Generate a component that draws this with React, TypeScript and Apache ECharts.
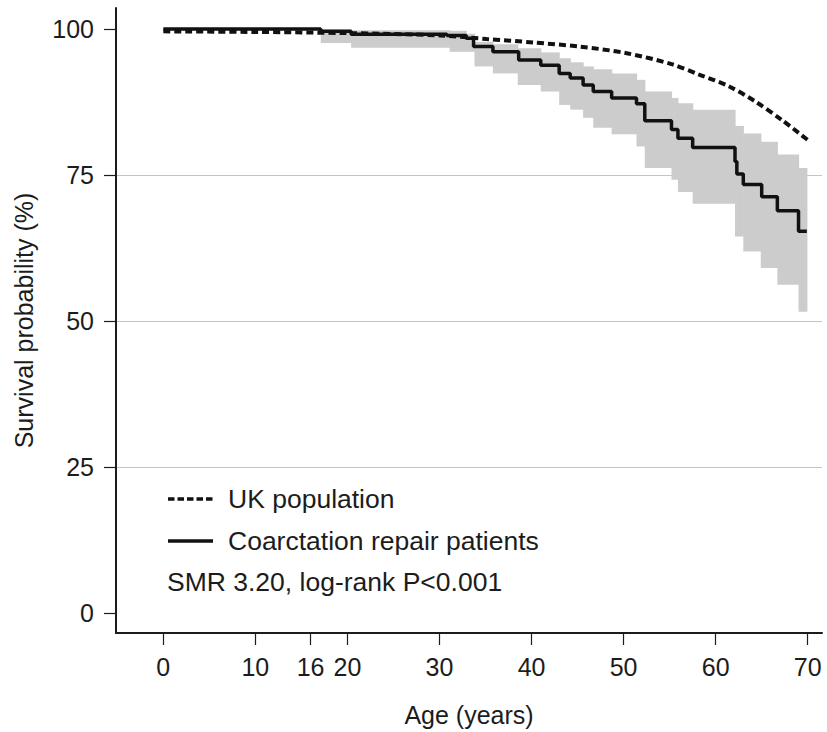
import React, { useEffect, useRef } from "react";
import * as echarts from "echarts";

// ---- data ----
const xTickValues = [0, 10, 16, 20, 30, 40, 50, 60, 70];
const yTickValues = [0, 25, 50, 75, 100];

// Kaplan-Meier estimate, coarctation repair patients (step changes)
const patientAges = [0, 17.1, 20.4, 30.8, 32.9, 33.7, 35.8, 38.6, 41.0, 43.0, 44.2, 45.6, 46.7, 48.7, 51.4, 52.3, 55.2, 55.9, 57.5, 62.1, 62.3, 63.0, 65.0, 66.7, 69.0, 69.9];
const patientSurvival = [100, 99.6, 99.1, 98.9, 98.4, 97.0, 96.1, 94.7, 93.8, 92.4, 91.6, 90.4, 89.3, 88.2, 87.2, 84.3, 82.8, 81.3, 79.7, 77.3, 75.2, 73.4, 71.3, 68.9, 65.4, 65.4];

// 95% confidence band (value holds from each age to the next)
const bandAges = [0, 17.1, 20.4, 31.1, 32.9, 33.8, 35.8, 38.5, 41.0, 43.0, 44.2, 45.6, 46.7, 48.7, 51.4, 52.3, 55.2, 55.9, 57.5, 62.1, 63.0, 64.9, 66.7, 69.0, 69.9];
const bandLower = [100, 97.6, 96.8, 96.1, 96.1, 93.6, 92.4, 90.4, 89.3, 87.0, 86.2, 84.8, 83.1, 82.0, 79.9, 76.2, 74.2, 72.1, 70.1, 64.5, 61.9, 59.1, 56.2, 51.6, 51.6];
const bandUpper = [100, 99.9, 99.8, 99.7, 99.2, 97.8, 97.4, 96.7, 96.0, 95.0, 94.3, 93.6, 93.1, 92.4, 91.3, 89.3, 88.2, 87.3, 86.2, 83.4, 82.1, 80.7, 78.5, 76.2, 76.2];

// UK general population expected survival
const ukAges = [0, 10, 20.1, 30.1, 35.1, 40.2, 45.2, 50.2, 55.2, 58.2, 61.3, 64.3, 67.3, 70.0];
const ukSurvival = [99.6, 99.5, 99.3, 98.9, 98.3, 97.7, 97.0, 95.9, 94.0, 92.2, 90.3, 87.6, 84.3, 81.0];

const seriesNames = ["UK population", "Coarctation repair patients"];
const statsNote = "SMR 3.20, log-rank P<0.001";
const xAxisTitle = "Age (years)";
const yAxisTitle = "Survival probability (%)";

const FONT = '"Liberation Sans", Arial, Helvetica, sans-serif';
const INK = "#1c1c1c";

export default function App() {
  const ref = useRef<HTMLDivElement>(null);

  useEffect(() => {
    if (!ref.current) return;
    const chart = echarts.init(ref.current, undefined, { renderer: "svg" });

    const bandData = bandAges
      .slice(0, -1)
      .map((a, i) => [a, bandAges[i + 1], bandLower[i], bandUpper[i]]);
    const ukData = ukAges.map((a, i) => [a, ukSurvival[i]]);
    const patientData = patientAges.map((a, i) => [a, patientSurvival[i]]);

    chart.setOption({
      animation: false,
      grid: { left: 116, right: 5, top: 8, bottom: 97, containLabel: false },
      xAxis: {
        type: "value",
        min: -5.14,
        max: 71.55,
        name: xAxisTitle,
        nameLocation: "middle",
        nameGap: 69,
        nameTextStyle: { fontFamily: FONT, fontSize: 25, color: INK },
        axisLine: { show: true, onZero: false, lineStyle: { color: INK, width: 2 } },
        axisTick: { show: true, customValues: xTickValues, length: 12, lineStyle: { color: INK, width: 1.2 } },
        axisLabel: { customValues: xTickValues, margin: 21, fontFamily: FONT, fontSize: 25, color: INK },
        splitLine: { show: false },
      },
      yAxis: {
        type: "value",
        min: -3.4,
        max: 103.6,
        minInterval: 25,
        maxInterval: 25,
        name: yAxisTitle,
        nameLocation: "middle",
        nameGap: 80,
        nameTextStyle: { fontFamily: FONT, fontSize: 25, color: INK },
        axisLine: { show: true, onZero: false, lineStyle: { color: INK, width: 2 } },
        axisTick: { show: true, customValues: yTickValues, length: 12, lineStyle: { color: INK, width: 1.2 } },
        axisLabel: { customValues: yTickValues, margin: 22, fontFamily: FONT, fontSize: 25, color: INK },
        splitLine: { show: true, showMinLine: false, showMaxLine: false, lineStyle: { color: "#c4c4c4", width: 1 } },
      },
      series: [
        {
          name: "95% CI",
          type: "custom",
          silent: true,
          clip: true,
          encode: { x: [0, 1], y: [2, 3] },
          data: bandData,
          renderItem: (params: any, api: any) => {
            const x0 = api.value(0);
            const x1 = api.value(1);
            const lo = api.value(2);
            const hi = api.value(3);
            const pTop = api.coord([x0, hi]);
            const pBottom = api.coord([x1, lo]);
            return {
              type: "rect",
              shape: {
                x: pTop[0],
                y: pTop[1],
                width: pBottom[0] - pTop[0] + 0.6,
                height: pBottom[1] - pTop[1],
              },
              style: { fill: "#cccccc" },
            };
          },
          z: 1,
        },
        {
          name: seriesNames[0],
          type: "line",
          smooth: 0.3,
          symbol: "none",
          lineStyle: { color: "#111", width: 4, type: [7, 4] },
          data: ukData,
          z: 3,
        },
        {
          name: seriesNames[1],
          type: "line",
          step: "end",
          symbol: "none",
          lineStyle: { color: "#111", width: 3.5 },
          data: patientData,
          z: 4,
        },
      ],
      graphic: [
        {
          type: "line",
          shape: { x1: 168, y1: 499, x2: 213, y2: 499 },
          style: { stroke: "#111", lineWidth: 3.5, lineDash: [6.5, 3] },
        },
        {
          type: "text",
          x: 228,
          y: 499,
          style: { text: seriesNames[0], fontFamily: FONT, fontSize: 26.5, fill: INK, verticalAlign: "middle" },
        },
        {
          type: "line",
          shape: { x1: 168, y1: 541, x2: 213, y2: 541 },
          style: { stroke: "#111", lineWidth: 3.5 },
        },
        {
          type: "text",
          x: 228,
          y: 541,
          style: { text: seriesNames[1], fontFamily: FONT, fontSize: 26.5, fill: INK, verticalAlign: "middle" },
        },
        {
          type: "text",
          x: 167,
          y: 582,
          style: { text: statsNote, fontFamily: FONT, fontSize: 26.5, fill: INK, verticalAlign: "middle" },
        },
      ],
    });

    return () => chart.dispose();
  }, []);

  return (
    <div
      ref={ref}
      style={{ position: "fixed", left: 0, top: 0, width: 827, height: 732, background: "#fff" }}
    />
  );
}
